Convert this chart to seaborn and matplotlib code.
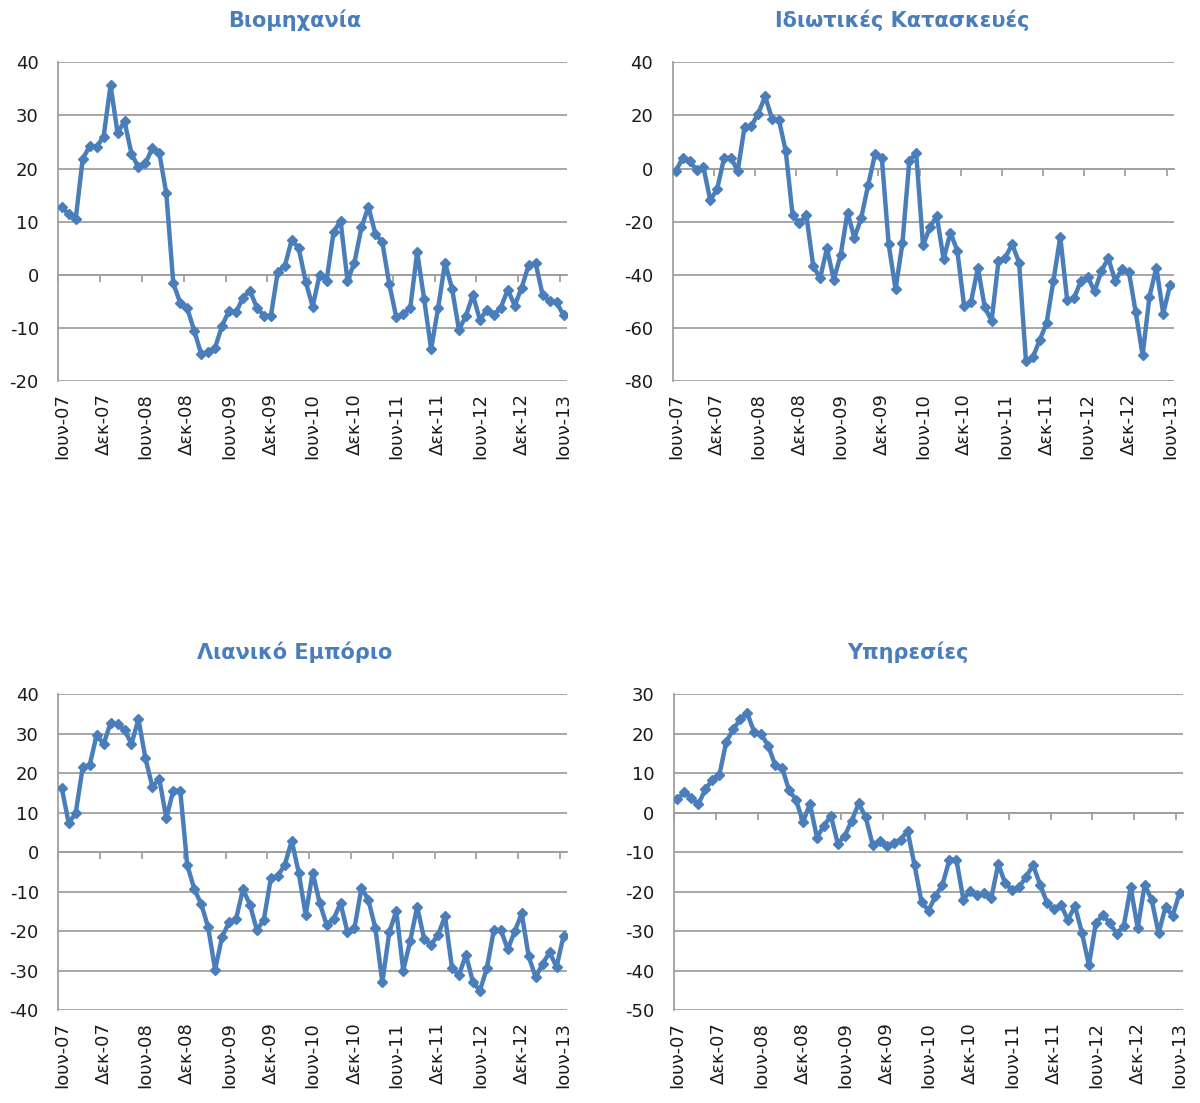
import numpy as np
import pandas as pd
import matplotlib
matplotlib.use("Agg")
import matplotlib.pyplot as plt
import seaborn as sns

# ---------------- data ----------------
x_labels = ["Ιουν-07", "Δεκ-07", "Ιουν-08", "Δεκ-08", "Ιουν-09", "Δεκ-09", "Ιουν-10",
            "Δεκ-10", "Ιουν-11", "Δεκ-11", "Ιουν-12", "Δεκ-12", "Ιουν-13"]

industry = [12.7, 11.4, 10.5, 21.8, 24.2, 24.1, 26.0, 35.7, 26.7, 28.9,
            22.8, 20.2, 21.0, 23.8, 22.9, 15.3, -1.6, -5.3, -6.3, -10.5,
            -14.9, -14.6, -13.7, -9.6, -6.8, -7.1, -4.3, -3.0, -6.2, -7.7,
            -7.8, 0.6, 1.6, 6.6, 5.0, -1.3, -6.0, 0.0, -1.1, 8.0,
            10.2, -1.1, 2.3, 8.9, 12.8, 7.7, 6.1, -1.8, -8.0, -7.4,
            -6.3, 4.3, -4.6, -14.0, -6.3, 2.3, -2.6, -10.4, -7.7, -3.8,
            -8.5, -6.6, -7.6, -6.2, -2.8, -5.8, -2.4, 1.8, 2.2, -3.8,
            -4.9, -5.2, -7.6]

construction = [-0.9, 4.1, 2.9, -0.6, 0.6, -11.9, -7.8, 3.8, 4.1, -0.9,
                15.7, 16.1, 20.7, 27.2, 18.8, 18.4, 6.6, -17.6, -20.5, -17.6,
                -36.6, -41.4, -30.1, -41.8, -32.6, -16.6, -26.1, -18.6, -6.3, 5.3,
                4.0, -28.6, -45.4, -28.2, 2.8, 6.0,
                -28.9, -22.2, -17.8, -34.1, -24.1, -31.0, -51.9, -50.2, -37.3, -52.3,
                -57.3, -34.8, -33.5, -28.5, -35.4, -72.4, -71.1, -64.6, -58.3, -42.3,
                -25.7, -49.4, -48.9, -42.3, -40.8, -46.3, -38.5, -33.8, -42.3, -37.9,
                -38.9, -54.2, -70.3, -48.2, -37.3, -54.6, -43.9]

retail = [16.2, 7.3, 9.9, 21.5, 22.0, 29.7, 27.4, 32.7, 32.4, 31.0,
          27.4, 33.7, 23.8, 16.6, 18.5, 8.6, 15.6, 15.6, -3.2, -9.3,
          -13.1, -19.0, -29.8, -21.5, -17.8, -17.0, -9.4, -13.3, -19.8, -17.1,
          -6.6, -6.0, -3.2, 2.9, -5.2, -15.9, -5.2, -12.8, -18.4, -17.0,
          -12.9, -20.3, -19.3, -9.1, -12.1, -19.3, -33.0, -20.3, -14.9, -30.0,
          -22.5, -13.8, -22.0, -23.5, -20.9, -16.3, -29.4, -31.1, -26.0, -32.9,
          -35.1, -29.4, -19.8, -19.7, -24.6, -20.1, -15.5, -26.4, -31.7, -28.3,
          -25.4, -29.1, -21.2]

services = [3.4, 5.3, 3.6, 2.2, 5.9, 8.4, 9.5, 18.0, 21.1, 23.7,
            25.2, 20.5, 19.9, 17.0, 12.1, 11.4, 5.7, 3.2, -2.3, 2.2,
            -6.3, -3.3, -0.8, -7.9, -5.8, -2.0, 2.4, -1.2, -8.2, -7.2,
            -8.4, -7.6, -6.8, -4.6, -13.3, -22.6, -24.8, -21.1, -18.3, -11.9,
            -11.9, -22.0, -19.8, -20.9, -20.4, -21.7, -13.0, -17.9, -19.6, -18.9,
            -16.2, -13.3, -18.2, -22.8, -24.5, -23.4, -27.2, -23.6, -30.4, -38.6,
            -28.0, -25.9, -28.0, -30.7, -28.7, -18.9, -29.3, -18.3, -22.0, -30.6,
            -23.8, -26.2, -20.4]

titles = ["Βιομηχανία", "Ιδιωτικές Κατασκευές", "Λιανικό Εμπόριο", "Υπηρεσίες"]
series = [industry, construction, retail, services]
y_ranges = [(-20, 40, 10), (-80, 40, 20), (-40, 40, 10), (-50, 30, 10)]

# ---------------- style ----------------
sns.set_style("white")
plt.rcParams["font.family"] = ["DejaVu Sans"]
plt.rcParams["axes.unicode_minus"] = False

LINE = "#4A7EBB"
GRID = "#A0A0A0"
TITLE = "#4A7EBB"
TEXT = "#1A1A1A"

W, H = 1200, 1103
fig = plt.figure(figsize=(W / 100, H / 100), dpi=100)

# axes rectangles in pixels: left, right, top, bottom
rects_px = [(58.3, 567.0, 62.3, 381.0),
            (672.5, 1173.5, 62.3, 381.0),
            (58.3, 567.0, 694.3, 1010.0),
            (674.0, 1183.0, 694.3, 1010.0)]
title_px = [(295, 20), (902, 20), (295, 652), (908, 652)]

for title, vals, (ymin, ymax, step), (l, r, t, b), (tx, ty) in zip(
        titles, series, y_ranges, rects_px, title_px):
    ax = fig.add_axes([l / W, 1 - b / H, (r - l) / W, (b - t) / H])
    df = pd.DataFrame({"t": np.arange(len(vals)), "v": vals})
    sns.lineplot(data=df, x="t", y="v", ax=ax, color=LINE, linewidth=3.2,
                 marker="D", markersize=5.5, markeredgecolor=LINE,
                 markeredgewidth=1.0, zorder=3)
    ax.set_xlim(-0.5, len(vals) - 0.5)
    ax.set_ylim(ymin, ymax)
    ax.set_yticks(np.arange(ymin, ymax + 1, step))
    ax.yaxis.grid(True, color=GRID, linewidth=1.3)
    ax.xaxis.grid(False)
    ax.set_axisbelow(True)
    ax.set_xticks(np.arange(0, len(vals), 6))
    ax.set_xticklabels(x_labels, rotation=90, fontsize=13, color=TEXT)
    ax.tick_params(axis="x", length=0, pad=8.5)
    ax.tick_params(axis="y", length=5, width=1.3, color=GRID, direction="out",
                   pad=9, labelsize=13, labelcolor=TEXT)
    for s in ["top", "right", "bottom"]:
        ax.spines[s].set_visible(False)
    ax.spines["left"].set_color(GRID)
    ax.spines["left"].set_linewidth(1.3)
    ax.set_xlabel("")
    ax.set_ylabel("")

    # horizontal axis line crossing at zero with tick marks between categories
    sec = ax.secondary_xaxis((0 - ymin) / (ymax - ymin))
    sec.set_alignment("bottom")
    sec.set_xticks(np.arange(-0.5, len(vals), 6))
    sec.set_xticklabels([])
    sec.tick_params(axis="x", length=5, width=1.3, color=GRID, direction="out")
    sec.spines["bottom"].set_color(GRID)
    sec.spines["bottom"].set_linewidth(1.3)

    fig.text(tx / W, 1 - ty / H, title, ha="center", va="center",
             fontsize=15, fontweight="bold", color=TITLE)

fig.savefig("out.png", dpi=100)
